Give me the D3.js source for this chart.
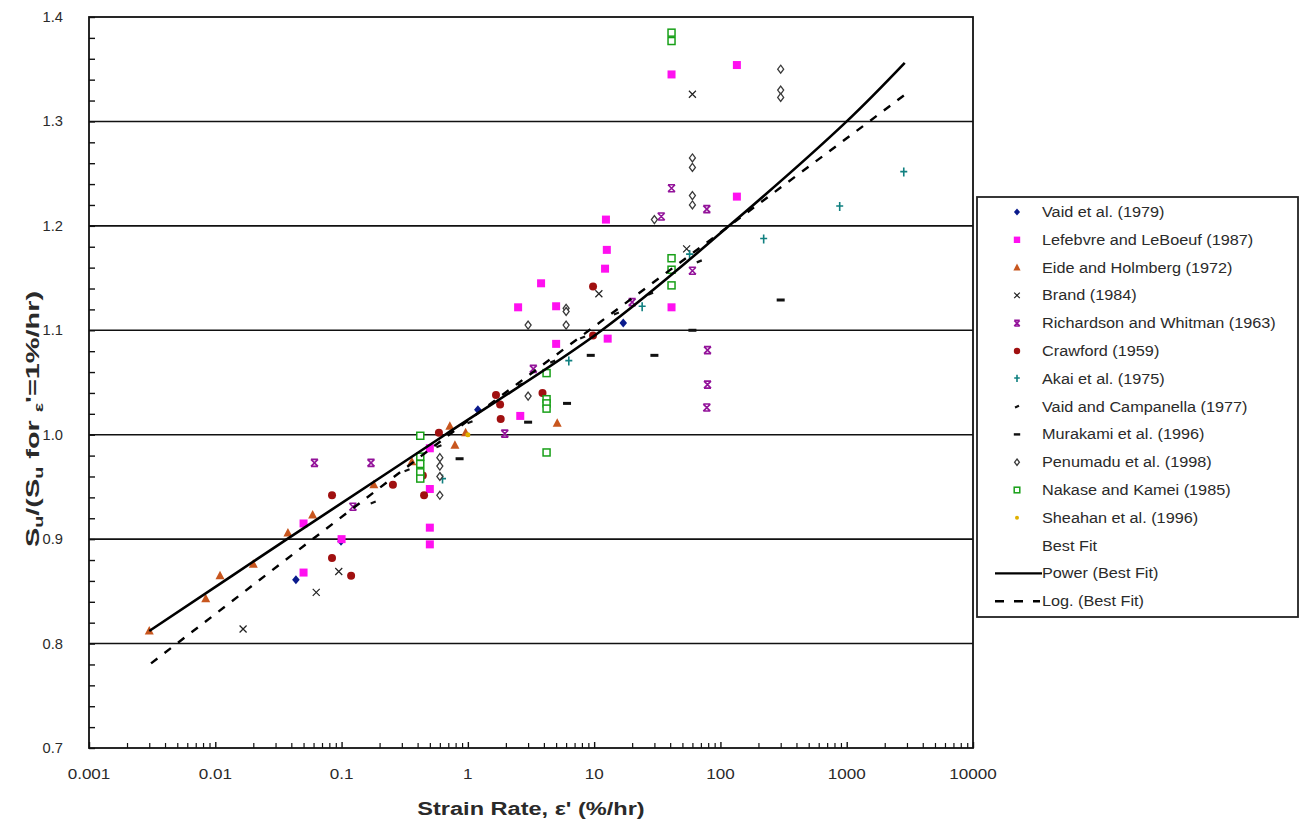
<!DOCTYPE html>
<html>
<head>
<meta charset="utf-8">
<script src="https://cdn.jsdelivr.net/npm/d3@7"></script>
<style>
  html, body { margin: 0; padding: 0; background: #fff; }
  svg { display: block; font-family: Arial, "Liberation Sans", sans-serif; }
</style>
</head>
<body>
<svg id="chart" width="1302" height="823"></svg>
<script>
// ---------------- data ----------------
const xTickValues = [0.001, 0.01, 0.1, 1, 10, 100, 1000, 10000];
const xTickLabels = ["0.001", "0.01", "0.1", "1", "10", "100", "1000", "10000"];
const yTickValues = [0.7, 0.8, 0.9, 1.0, 1.1, 1.2, 1.3, 1.4];
const yTickLabels = ["0.7", "0.8", "0.9", "1.0", "1.1", "1.2", "1.3", "1.4"];
const gridValues = [0.8, 0.9, 1.0, 1.1, 1.2, 1.3];

const vaid1979 = [[0.0435,0.861],[0.099,0.898],[1.2,1.024],[17,1.107]];
const lefebvre = [[135,1.354],[41,1.345],[135,1.228],[12.4,1.206],[12.6,1.177],[12.2,1.159],[3.8,1.145],[2.5,1.122],[5.0,1.123],[41,1.122],[12.8,1.092],[5.0,1.087],[2.6,1.018],[0.5,0.987],[0.5,0.948],[0.5,0.911],[0.5,0.895],[0.05,0.915],[0.05,0.868],[0.1,0.90]];
const eide = [[0.003,0.812],[0.0084,0.843],[0.0109,0.865],[0.020,0.876],[0.0376,0.906],[0.059,0.923],[0.18,0.952],[0.36,0.974],[0.72,1.008],[0.79,0.990],[0.96,1.002],[5.1,1.011]];
const brand = [[0.0166,0.814],[0.063,0.849],[0.095,0.869],[60,1.326],[10.9,1.135],[54,1.178]];
const richardson = [[0.061,0.973],[0.171,0.973],[0.123,0.931],[1.96,1.001],[3.3,1.063],[20,1.127],[34,1.209],[41,1.236],[78,1.216],[60,1.157],[79,1.081],[79,1.048],[78,1.026]];
const crawford = [[0.084,0.942],[0.084,0.882],[0.119,0.865],[0.255,0.952],[0.44,0.961],[0.45,0.942],[0.59,1.002],[1.67,1.038],[1.8,1.029],[1.82,1.015],[3.9,1.040],[9.8,1.142],[9.8,1.095]];
const akai = [[2830,1.251],[880,1.218],[220,1.187],[24,1.122],[57,1.172],[6.3,1.070],[0.63,0.957]];
const vaidCampanella = [[0.178,0.935],[0.33,0.966],[0.59,0.989],[1.04,1.012],[2.6,1.048],[4.7,1.070],[8.1,1.093],[15,1.116],[28,1.135],[68,1.166]];
const murakami = [[0.86,0.977],[3.0,1.012],[6.1,1.030],[9.4,1.076],[30,1.076],[300,1.129],[60,1.100]];
const penumadu = [[300,1.350],[300,1.330],[300,1.323],[60,1.265],[60,1.256],[60,1.229],[60,1.220],[30,1.206],[3.0,1.105],[6.0,1.121],[6.0,1.118],[6.0,1.105],[3.0,1.037],[0.6,0.978],[0.6,0.970],[0.6,0.960],[0.6,0.942]];
const nakase = [[41,1.385],[41,1.377],[41,1.169],[41,1.158],[41,1.143],[4.2,1.059],[4.2,1.034],[4.2,1.030],[4.2,1.025],[4.2,0.983],[0.42,0.999],[0.42,0.979],[0.42,0.972],[0.42,0.964],[0.42,0.958]];
const sheahan = [[1.0,1.0]];

const powerFit = [[0.003,0.812],[0.037,0.900],[0.66,1.000],[11.5,1.100],[117,1.200],[1000,1.300],[2880,1.356]];
const logFit = [[0.0031,0.781],[0.059,0.900],[0.71,1.000],[1510,1.300],[2990,1.327]];

const seriesNames = ["Vaid et al. (1979)","Lefebvre and LeBoeuf (1987)","Eide and Holmberg (1972)","Brand (1984)","Richardson and Whitman (1963)","Crawford (1959)","Akai et al. (1975)","Vaid and Campanella (1977)","Murakami et al. (1996)","Penumadu et al. (1998)","Nakase and Kamei (1985)","Sheahan et al. (1996)"];
const seriesData = [vaid1979, lefebvre, eide, brand, richardson, crawford, akai, vaidCampanella, murakami, penumadu, nakase, sheahan];
const seriesShapes = ["diamond","square","triangle","cross","hourglass","circle","plus","dot","dash","odiamond","osquare","ydot"];
const seriesColors = ["#0a1a8c","#ff10f0","#c8561e","#222222","#93139a","#a01010","#108080","#111111","#111111","#3a3a3a","#18a018","#e0b000"];

// ---------------- layout ----------------
const svg = d3.select("#chart");
const L = 89, R = 973, T = 17, B = 748;
const x = d3.scaleLog().domain([0.001, 10000]).range([L, R]);
const y = d3.scaleLinear().domain([0.7, 1.4]).range([B, T]);

// text helper: horizontally stretched text (the reference is stretched)
function sText(g, tx, ty, str, size, sx, anchor, extra) {
  const t = g.append("text")
    .attr("transform", `translate(${tx},${ty}) scale(${sx},1)`)
    .attr("text-anchor", anchor || "start")
    .attr("font-size", size).attr("fill", "#2a2a2a").text(str);
  if (extra) extra(t);
  return t;
}

// gridlines
svg.append("g").selectAll("line").data(gridValues).join("line")
  .attr("x1", L).attr("x2", R)
  .attr("y1", d => y(d)).attr("y2", d => y(d))
  .attr("stroke", "#111").attr("stroke-width", 1.6);

// y axis minor ticks (inward)
const yMinor = d3.range(36).map(i => 0.7 + i * 0.02).filter(v => v <= 1.4001);
svg.append("g").attr("transform", `translate(${L},0)`)
  .call(d3.axisLeft(y).tickValues(yMinor).tickSize(-6).tickFormat(""))
  .call(g => g.select(".domain").remove())
  .call(g => g.selectAll("line").attr("stroke", "#111").attr("stroke-width", 1.4));

// y labels
const yl = svg.append("g");
yTickValues.forEach((d, i) => sText(yl, 63, y(d) + 5, yTickLabels[i], 14, 1.05, "end"));

// x axis minor ticks
const xMinor = [];
for (let e = -3; e < 4; e++) for (let m = 2; m <= 9; m++) xMinor.push(m * Math.pow(10, e));
svg.append("g").attr("transform", `translate(0,${B})`)
  .call(d3.axisBottom(x).tickValues(xMinor).tickSize(-5).tickFormat(""))
  .call(g => g.select(".domain").remove())
  .call(g => g.selectAll("line").attr("stroke", "#111").attr("stroke-width", 1.2));
svg.append("g").attr("transform", `translate(0,${B})`)
  .call(d3.axisBottom(x).tickValues(xTickValues).tickSize(-6).tickFormat(""))
  .call(g => g.select(".domain").remove())
  .call(g => g.selectAll("line").attr("stroke", "#111").attr("stroke-width", 1.4));

const xl = svg.append("g");
xTickValues.forEach((d, i) => sText(xl, x(d), 779, xTickLabels[i], 14, 1.22, "middle"));

// frame
svg.append("rect").attr("x", L).attr("y", T).attr("width", R - L).attr("height", B - T)
  .attr("fill", "none").attr("stroke", "#111").attr("stroke-width", 1.8);

// axis titles
sText(svg, 531, 815, "Strain Rate, ε' (%/hr)", 19, 1.24, "middle", t => t.attr("font-weight", "bold"));

const yt = svg.append("text").attr("transform", "translate(39,419) rotate(-90)")
  .attr("text-anchor", "middle").attr("font-size", 19).attr("font-weight", "bold").attr("fill", "#2a2a2a")
  .attr("textLength", 256).attr("lengthAdjust", "spacingAndGlyphs");
yt.append("tspan").text("S");
yt.append("tspan").attr("font-size", 13).attr("dy", 4).text("u");
yt.append("tspan").attr("dy", -4).text("/(S");
yt.append("tspan").attr("font-size", 13).attr("dy", 4).text("u");
yt.append("tspan").attr("dy", -4).text(" for ");
yt.append("tspan").attr("font-size", 13).attr("dy", 4).text("ε");
yt.append("tspan").attr("dy", -4).text("'=1%/hr)");

// ---------------- markers ----------------
function drawMarker(g, shape, color, cx, cy, s) {
  s = s || 1;
  switch (shape) {
    case "diamond":
      g.append("path").attr("d", `M${cx},${cy-4.5*s}L${cx+3.8*s},${cy}L${cx},${cy+4.5*s}L${cx-3.8*s},${cy}Z`).attr("fill", color); break;
    case "square":
      g.append("rect").attr("x", cx-4*s).attr("y", cy-4*s).attr("width", 8*s).attr("height", 8*s).attr("fill", color); break;
    case "triangle":
      g.append("path").attr("d", `M${cx},${cy-5*s}L${cx+4.5*s},${cy+3.5*s}L${cx-4.5*s},${cy+3.5*s}Z`).attr("fill", color); break;
    case "cross":
      g.append("path").attr("d", `M${cx-3.5*s},${cy-3.5*s}L${cx+3.5*s},${cy+3.5*s}M${cx+3.5*s},${cy-3.5*s}L${cx-3.5*s},${cy+3.5*s}`).attr("stroke", color).attr("stroke-width", 1.2); break;
    case "hourglass":
      g.append("path").attr("d", `M${cx-3.5*s},${cy-3.5*s}L${cx+3.5*s},${cy+3.5*s}M${cx+3.5*s},${cy-3.5*s}L${cx-3.5*s},${cy+3.5*s}M${cx-3.5*s},${cy-3.5*s}L${cx+3.5*s},${cy-3.5*s}M${cx-3.5*s},${cy+3.5*s}L${cx+3.5*s},${cy+3.5*s}`).attr("stroke", color).attr("stroke-width", 1.6); break;
    case "circle":
      g.append("circle").attr("cx", cx).attr("cy", cy).attr("r", 4*s).attr("fill", color); break;
    case "plus":
      g.append("path").attr("d", `M${cx},${cy-5*s}L${cx},${cy+4*s}M${cx-3.5*s},${cy-1*s}L${cx+3.5*s},${cy-1*s}`).attr("stroke", color).attr("stroke-width", 1.6); break;
    case "dot":
      g.append("path").attr("d", `M${cx-2.5*s},${cy+1*s}L${cx+2.5*s},${cy-1*s}`).attr("stroke", color).attr("stroke-width", 2.2); break;
    case "dash":
      g.append("rect").attr("x", cx-4*s).attr("y", cy-1.5*s).attr("width", 8*s).attr("height", 3*s).attr("fill", color); break;
    case "odiamond":
      g.append("path").attr("d", `M${cx},${cy-4*s}L${cx+3*s},${cy}L${cx},${cy+4*s}L${cx-3*s},${cy}Z`).attr("fill", "#fff").attr("stroke", color).attr("stroke-width", 1.3); break;
    case "osquare":
      g.append("rect").attr("x", cx-3.5*s).attr("y", cy-3.5*s).attr("width", 7*s).attr("height", 7*s).attr("fill", "#fff").attr("stroke", color).attr("stroke-width", 1.5); break;
    case "ydot":
      g.append("circle").attr("cx", cx).attr("cy", cy).attr("r", 2.5*s).attr("fill", color); break;
  }
}

const marks = svg.append("g");
seriesData.forEach((data, i) => {
  const g = marks.append("g").attr("class", "series-" + i);
  data.forEach(d => drawMarker(g, seriesShapes[i], seriesColors[i], x(d[0]), y(d[1])));
});

// fit lines
const line = d3.line().x(d => x(d[0])).y(d => y(d[1])).curve(d3.curveCatmullRom.alpha(0.5));
svg.append("path").datum(powerFit).attr("d", line)
  .attr("fill", "none").attr("stroke", "#000").attr("stroke-width", 2.6);
svg.append("path").datum(logFit).attr("d", d3.line().x(d => x(d[0])).y(d => y(d[1])))
  .attr("fill", "none").attr("stroke", "#000").attr("stroke-width", 2.4)
  .attr("stroke-dasharray", "8,9");

// ---------------- legend ----------------
const lg = svg.append("g");
lg.append("rect").attr("x", 977).attr("y", 197).attr("width", 321).attr("height", 420)
  .attr("fill", "#fff").attr("stroke", "#222").attr("stroke-width", 1.8);
const rowY = i => 212 + i * 27.8;
seriesNames.forEach((name, i) => {
  drawMarker(lg, seriesShapes[i], seriesColors[i], 1017, rowY(i), 0.8);
  sText(lg, 1042, rowY(i) + 5, name, 14, 1.16, "start");
});
sText(lg, 1042, rowY(12) + 5, "Best Fit", 14, 1.16, "start");
lg.append("line").attr("x1", 995).attr("x2", 1042).attr("y1", rowY(13)).attr("y2", rowY(13))
  .attr("stroke", "#000").attr("stroke-width", 2.4);
sText(lg, 1042, rowY(13) + 5, "Power (Best Fit)", 14, 1.16, "start");
lg.append("line").attr("x1", 995).attr("x2", 1040).attr("y1", rowY(14)).attr("y2", rowY(14))
  .attr("stroke", "#000").attr("stroke-width", 2.4).attr("stroke-dasharray", "9,10");
sText(lg, 1042, rowY(14) + 5, "Log. (Best Fit)", 14, 1.16, "start");
</script>
</body>
</html>
